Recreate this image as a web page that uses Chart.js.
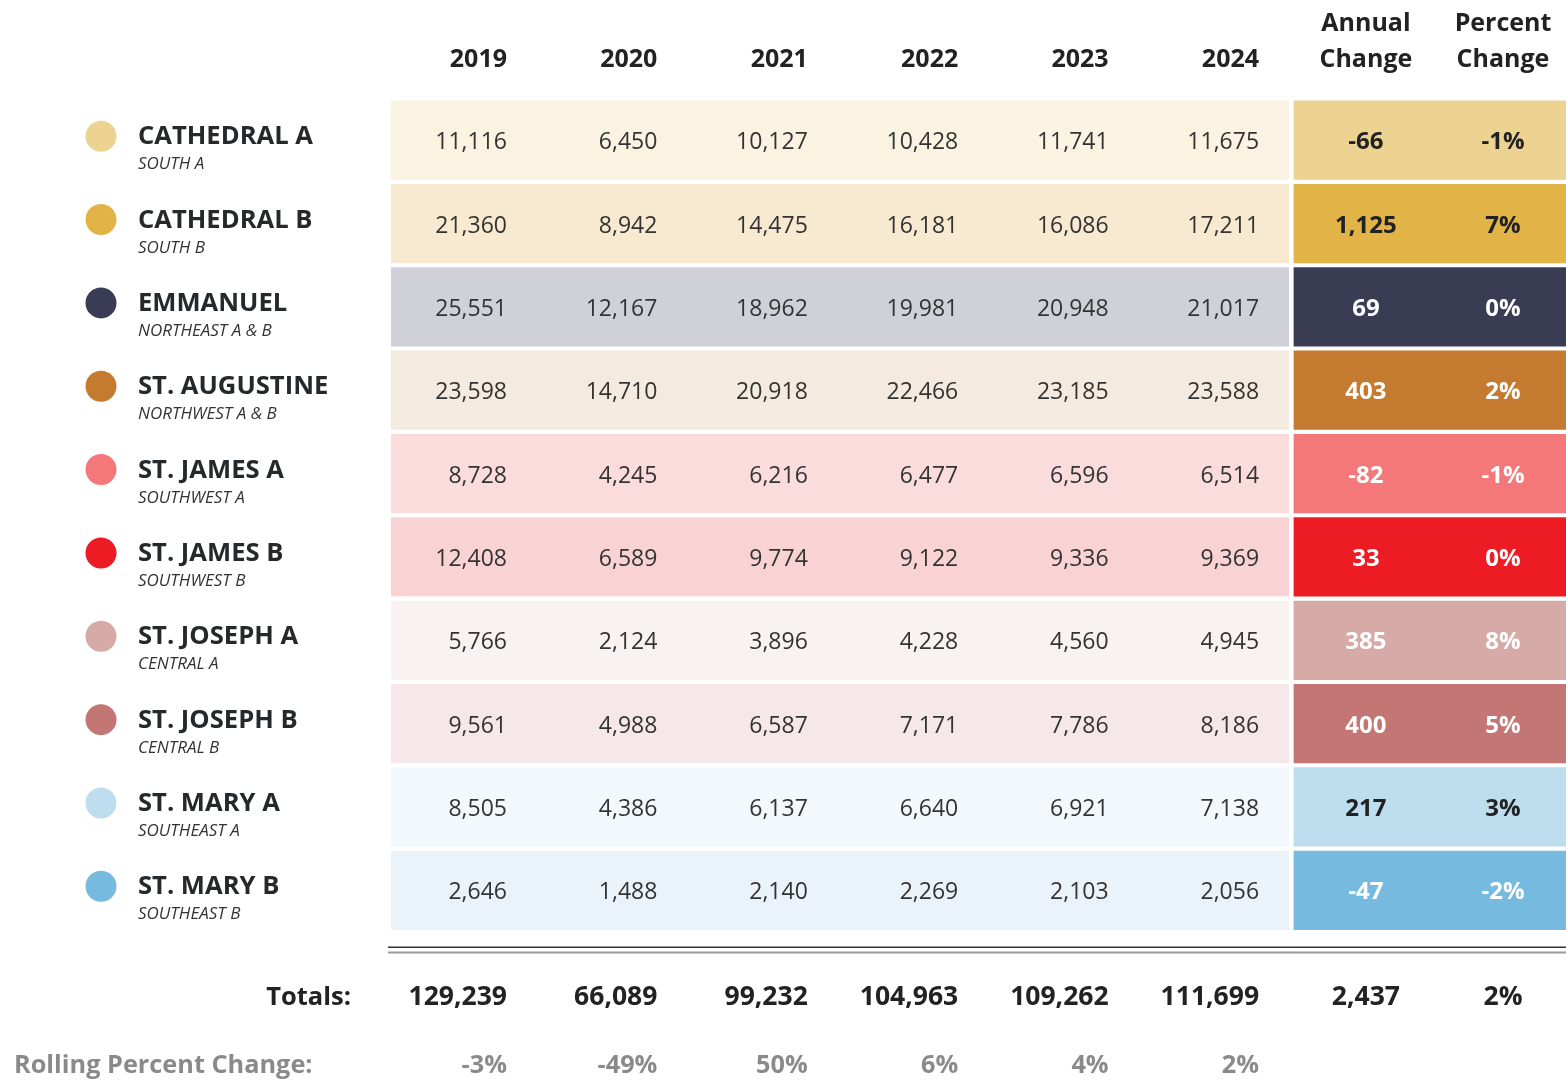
<!DOCTYPE html>
<html><head><meta charset="utf-8">
<script src="https://cdn.jsdelivr.net/npm/chart.js@4/dist/chart.umd.min.js"></script>
<style>html,body{margin:0;padding:0;background:#fff;overflow:hidden;} #wrap{width:1566px;height:1080px;position:relative;}</style>
</head><body><div id="wrap"><canvas id="c" width="1566" height="1080"></canvas></div>
<script>
const years = ['2019','2020','2021','2022','2023','2024'];
const names = ['CATHEDRAL A','CATHEDRAL B','EMMANUEL','ST. AUGUSTINE','ST. JAMES A','ST. JAMES B','ST. JOSEPH A','ST. JOSEPH B','ST. MARY A','ST. MARY B'];
const regions = ['SOUTH A','SOUTH B','NORTHEAST A & B','NORTHWEST A & B','SOUTHWEST A','SOUTHWEST B','CENTRAL A','CENTRAL B','SOUTHEAST A','SOUTHEAST B'];
const v2019 = [11116,21360,25551,23598,8728,12408,5766,9561,8505,2646];
const v2020 = [6450,8942,12167,14710,4245,6589,2124,4988,4386,1488];
const v2021 = [10127,14475,18962,20918,6216,9774,3896,6587,6137,2140];
const v2022 = [10428,16181,19981,22466,6477,9122,4228,7171,6640,2269];
const v2023 = [11741,16086,20948,23185,6596,9336,4560,7786,6921,2103];
const v2024 = [11675,17211,21017,23588,6514,9369,4945,8186,7138,2056];
const annualChange = [-66,1125,69,403,-82,33,385,400,217,-47];
const percentChange = ['-1%','7%','0%','2%','-1%','0%','8%','5%','3%','-2%'];
const totals = [129239,66089,99232,104963,109262,111699];
const totalAnnual = 2437;
const totalPercent = '2%';
const rolling = ['-3%','-49%','50%','6%','4%','2%'];
const changeHeaders = [['Annual','Change'],['Percent','Change']];

const mainColors = ['#EDD391','#E2B447','#3A3C54','#C47B2F','#F4777A','#ED1C24','#D6ABA7','#C37674','#BEDDEE','#77BADF'];
const lightColors = ['#FAF3E2','#F7EAD0','#D0D0D8','#F4EADF','#FADCDD','#F9D2D3','#F8F2F1','#F6E8E8','#F3F8FC','#EAF3FA'];
const changeText = ['#222','#222','#fff','#fff','#fff','#fff','#fff','#fff','#222','#fff'];

const valueCols = [v2019,v2020,v2021,v2022,v2023,v2024];
const fmt = n => n.toLocaleString('en-US');
const FONT = '"Open Sans", "Noto Sans", sans-serif';
const CHG_START = 6.031, CHG_END = 7.851, ANN_X = 6.514, PCT_X = 7.43;
const colRight = i => i * 1.005 + 0.775;

const tablePlugin = {
  id: 'tableText',
  afterDatasetsDraw(chart) {
    const ctx = chart.ctx, xs = chart.scales.x, ys = chart.scales.y, ca = chart.chartArea;
    ctx.save();
    // header
    ctx.fillStyle = '#222';
    ctx.font = 'bold 25px ' + FONT;
    ctx.textBaseline = 'alphabetic';
    ctx.textAlign = 'right';
    years.forEach((y, i) => ctx.fillText(y, xs.getPixelForValue(colRight(i)), 67));
    ctx.textAlign = 'center';
    [ANN_X, PCT_X].forEach((cx, k) => {
      ctx.fillText(changeHeaders[k][0], xs.getPixelForValue(cx), 31);
      ctx.fillText(changeHeaders[k][1], xs.getPixelForValue(cx), 67);
    });
    // rows
    names.forEach((nm, r) => {
      const cy = ys.getPixelForValue(r);
      ctx.beginPath();
      ctx.fillStyle = mainColors[r];
      ctx.arc(101, cy - 4, 15.5, 0, Math.PI * 2);
      ctx.fill();
      ctx.textAlign = 'left';
      ctx.fillStyle = '#26292c';
      ctx.font = 'bold 25.6px ' + FONT;
      ctx.fillText(nm, 138, cy + 4);
      ctx.fillStyle = '#333';
      ctx.font = 'italic 17px ' + FONT;
      ctx.fillText(regions[r], 138, cy + 29);
      ctx.textAlign = 'right';
      ctx.font = '23px ' + FONT;
      ctx.fillStyle = '#333';
      valueCols.forEach((col, i) => ctx.fillText(fmt(col[r]), xs.getPixelForValue(colRight(i)), cy + 9));
      ctx.textAlign = 'center';
      ctx.font = 'bold 24px ' + FONT;
      ctx.fillStyle = changeText[r];
      ctx.fillText(fmt(annualChange[r]), xs.getPixelForValue(ANN_X), cy + 9);
      ctx.fillText(percentChange[r], xs.getPixelForValue(PCT_X), cy + 9);
    });
    // double rule
    const lx = ca.left - 3, rx = ca.right;
    ctx.fillStyle = '#333';
    ctx.fillRect(lx, ca.bottom + 14.5, rx - lx, 1.5);
    ctx.fillStyle = '#999';
    ctx.fillRect(lx, ca.bottom + 19.5, rx - lx, 2);
    // totals
    const tY = ca.bottom + 73, rY = ca.bottom + 141;
    ctx.font = 'bold 26px ' + FONT;
    ctx.fillStyle = '#222';
    ctx.textAlign = 'right';
    ctx.font = 'bold 25.5px ' + FONT;
    ctx.fillText('Totals:', 351, tY);
    ctx.font = 'bold 26.5px ' + FONT;
    totals.forEach((t, i) => ctx.fillText(fmt(t), xs.getPixelForValue(colRight(i)), tY));
    ctx.textAlign = 'center';
    ctx.fillText(fmt(totalAnnual), xs.getPixelForValue(ANN_X), tY);
    ctx.fillText(totalPercent, xs.getPixelForValue(PCT_X), tY);
    // rolling
    ctx.font = 'bold 25.3px ' + FONT;
    ctx.fillStyle = '#8a8a8a';
    ctx.textAlign = 'left';
    ctx.fillText('Rolling Percent Change:', 14, rY);
    ctx.textAlign = 'right';
    rolling.forEach((p, i) => ctx.fillText(p, xs.getPixelForValue(colRight(i)), rY));
    ctx.restore();
  }
};

new Chart(document.getElementById('c'), {
  type: 'bar',
  data: {
    labels: names,
    datasets: [
      { data: names.map(() => [0, 6]), backgroundColor: lightColors, grouped: false, borderWidth: 0, barPercentage: 0.951, categoryPercentage: 1 },
      { data: names.map(() => [CHG_START, CHG_END]), backgroundColor: mainColors, grouped: false, borderWidth: 0, barPercentage: 0.951, categoryPercentage: 1 }
    ]
  },
  options: {
    indexAxis: 'y',
    responsive: false,
    animation: false,
    layout: { padding: { left: 391, right: 0, top: 98.5, bottom: 148 } },
    scales: {
      x: { type: 'linear', min: 0, max: CHG_END, display: false },
      y: { type: 'category', display: false, offset: true }
    },
    plugins: { legend: { display: false }, tooltip: { enabled: false } }
  },
  plugins: [tablePlugin]
});
</script></body></html>
